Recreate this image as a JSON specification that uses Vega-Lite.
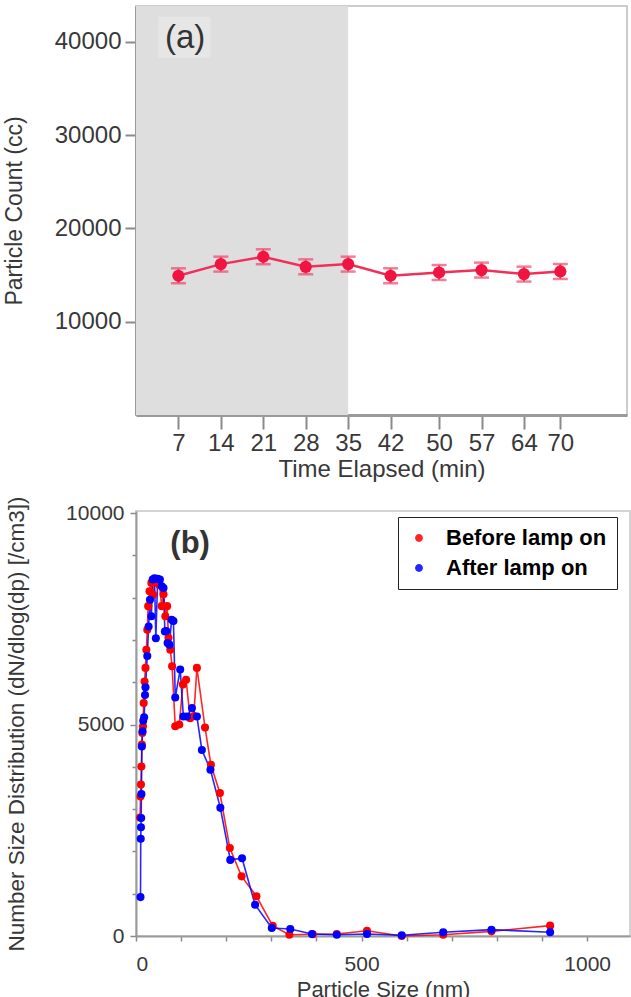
{
  "$schema": "https://vega.github.io/schema/vega-lite/v6.json",
  "padding": {"left": 2, "top": 5, "right": 0, "bottom": 0},
  "spacing": 12,
  "config": {
    "font": "Liberation Sans",
    "axis": {"labelColor": "#383838", "titleColor": "#383838", "titleFontWeight": "normal", "grid": false, "tickColor": "#8a8a8a", "domainColor": "#9a9a9a", "labelFont": "Liberation Sans", "titleFont": "Liberation Sans", "labelOverlap": false},
    "view": {"stroke": "#cccccc", "strokeWidth": 2}
  },
  "vconcat": [
    {
      "width": 491,
      "height": 409,
      "layer": [
        {
          "data": {"values": [{"start": 0, "end": 35}]},
          "mark": {"type": "rect", "color": "#dedede"},
          "encoding": {
            "x": {"field": "start", "type": "quantitative", "title": "Time Elapsed (min)", "scale": {"domain": [0, 81], "nice": false, "zero": false}},
            "x2": {"field": "end"}
          }
        },
        {
          "data": {"values": [{"label": "(a)"}]},
          "mark": {"type": "rect", "color": "#e6e6e6"},
          "encoding": {
            "x": {"datum": 3.7, "type": "quantitative"},
            "x2": {"datum": 12.3},
            "y": {"datum": 42700, "type": "quantitative", "title": "Particle Count (cc)",
              "axis": {"values": [10000, 20000, 30000, 40000], "format": "d", "tickSize": 11, "tickWidth": 2, "labelFontSize": 24, "labelPadding": 4, "titleFontSize": 23, "titlePadding": 28, "domainWidth": 3, "labelOverlap": false}},
            "y2": {"datum": 38300}
          }
        },
        {
          "data": {"values": [{"label": "(a)"}]},
          "mark": {"type": "text", "fontSize": 33, "color": "#333333", "font": "Liberation Sans", "baseline": "middle", "align": "center"},
          "encoding": {
            "x": {"datum": 8.1, "type": "quantitative"},
            "y": {"datum": 40400, "type": "quantitative", "title": "Particle Count (cc)",
              "axis": {"values": [10000, 20000, 30000, 40000], "format": "d", "tickSize": 11, "tickWidth": 2, "labelFontSize": 24, "labelPadding": 4, "titleFontSize": 23, "titlePadding": 28, "domainWidth": 3, "labelOverlap": false}},
            "text": {"field": "label"}
          }
        },
        {
          "data": {"values": [
            {"t": 7, "count": 14930, "lo": 14130, "hi": 15730},
            {"t": 14, "count": 16180, "lo": 15380, "hi": 16980},
            {"t": 21, "count": 16970, "lo": 16170, "hi": 17770},
            {"t": 28, "count": 15890, "lo": 15090, "hi": 16690},
            {"t": 35, "count": 16180, "lo": 15380, "hi": 16980},
            {"t": 42, "count": 14930, "lo": 14130, "hi": 15730},
            {"t": 50, "count": 15280, "lo": 14480, "hi": 16080},
            {"t": 57, "count": 15540, "lo": 14740, "hi": 16340},
            {"t": 64, "count": 15110, "lo": 14310, "hi": 15910},
            {"t": 70, "count": 15390, "lo": 14590, "hi": 16190}
          ]},
          "encoding": {
            "x": {"field": "t", "type": "quantitative", "title": "Time Elapsed (min)",
              "axis": {"values": [7, 14, 21, 28, 35, 42, 50, 57, 64, 70], "tickSize": 14, "tickWidth": 2, "labelFontSize": 24, "labelPadding": 2, "titleFontSize": 24, "titlePadding": 2, "domainWidth": 3, "labelOverlap": false}},
            "y": {"field": "count", "type": "quantitative", "title": "Particle Count (cc)",
              "scale": {"domain": [0, 43860], "nice": false, "zero": true},
              "axis": {"values": [10000, 20000, 30000, 40000], "format": "d", "tickSize": 11, "tickWidth": 2, "labelFontSize": 24, "labelPadding": 4, "titleFontSize": 23, "titlePadding": 28, "domainWidth": 3, "labelOverlap": false}}
          },
          "layer": [
            {
              "mark": {"type": "errorbar", "color": "#f0476a", "thickness": 2, "ticks": {"size": 15, "thickness": 2.5, "color": "#f0476a"}},
              "encoding": {
                "y": {"field": "lo", "type": "quantitative", "title": "Particle Count (cc)",
                  "axis": {"values": [10000, 20000, 30000, 40000], "format": "d", "tickSize": 11, "tickWidth": 2, "labelFontSize": 24, "labelPadding": 4, "titleFontSize": 23, "titlePadding": 28, "domainWidth": 3, "labelOverlap": false}},
                "y2": {"field": "hi"}
              }
            },
            {
              "mark": {"type": "line", "color": "#f0305a", "strokeWidth": 2.5}
            },
            {
              "mark": {"type": "point", "filled": true, "shape": "circle", "size": 150, "color": "#ef1540", "opacity": 1}
            }
          ]
        }
      ]
    },
    {
      "width": 494,
      "height": 425,
      "view": {"stroke": "#d4d4d4", "strokeWidth": 2},
      "layer": [
        {
          "data": {"values": [{"label": "(b)"}]},
          "mark": {"type": "text", "fontSize": 31, "fontWeight": "bold", "color": "#333333", "font": "Liberation Sans", "baseline": "middle", "align": "center"},
          "encoding": {
            "x": {"datum": 120, "type": "quantitative"},
            "y": {"datum": 9280, "type": "quantitative"},
            "text": {"field": "label"}
          }
        },
        {
          "data": {"values": [
            {"size": 9, "value": 2800, "series": "Before lamp on"},
            {"size": 10, "value": 3300, "series": "Before lamp on"},
            {"size": 11, "value": 3580, "series": "Before lamp on"},
            {"size": 12, "value": 4010, "series": "Before lamp on"},
            {"size": 13, "value": 4530, "series": "Before lamp on"},
            {"size": 14, "value": 4800, "series": "Before lamp on"},
            {"size": 15.5, "value": 4960, "series": "Before lamp on"},
            {"size": 17, "value": 5510, "series": "Before lamp on"},
            {"size": 19, "value": 6020, "series": "Before lamp on"},
            {"size": 21, "value": 6340, "series": "Before lamp on"},
            {"size": 23, "value": 6770, "series": "Before lamp on"},
            {"size": 25, "value": 7240, "series": "Before lamp on"},
            {"size": 27, "value": 7800, "series": "Before lamp on"},
            {"size": 30, "value": 8150, "series": "Before lamp on"},
            {"size": 34, "value": 8350, "series": "Before lamp on"},
            {"size": 38, "value": 8070, "series": "Before lamp on"},
            {"size": 42, "value": 8430, "series": "Before lamp on"},
            {"size": 47, "value": 8350, "series": "Before lamp on"},
            {"size": 52, "value": 8300, "series": "Before lamp on"},
            {"size": 57, "value": 7800, "series": "Before lamp on"},
            {"size": 61, "value": 8080, "series": "Before lamp on"},
            {"size": 65, "value": 7560, "series": "Before lamp on"},
            {"size": 69, "value": 7800, "series": "Before lamp on"},
            {"size": 72, "value": 7050, "series": "Before lamp on"},
            {"size": 76, "value": 6770, "series": "Before lamp on"},
            {"size": 80, "value": 6380, "series": "Before lamp on"},
            {"size": 87, "value": 4960, "series": "Before lamp on"},
            {"size": 96, "value": 5000, "series": "Before lamp on"},
            {"size": 104, "value": 5950, "series": "Before lamp on"},
            {"size": 111, "value": 6060, "series": "Before lamp on"},
            {"size": 120, "value": 5150, "series": "Before lamp on"},
            {"size": 128, "value": 5200, "series": "Before lamp on"},
            {"size": 135, "value": 6340, "series": "Before lamp on"},
            {"size": 153, "value": 4930, "series": "Before lamp on"},
            {"size": 166, "value": 4050, "series": "Before lamp on"},
            {"size": 186, "value": 3380, "series": "Before lamp on"},
            {"size": 208, "value": 2080, "series": "Before lamp on"},
            {"size": 234, "value": 1410, "series": "Before lamp on"},
            {"size": 267, "value": 940, "series": "Before lamp on"},
            {"size": 303, "value": 240, "series": "Before lamp on"},
            {"size": 340, "value": 30, "series": "Before lamp on"},
            {"size": 392, "value": 40, "series": "Before lamp on"},
            {"size": 445, "value": 47, "series": "Before lamp on"},
            {"size": 512, "value": 125, "series": "Before lamp on"},
            {"size": 589, "value": 0, "series": "Before lamp on"},
            {"size": 681, "value": 30, "series": "Before lamp on"},
            {"size": 788, "value": 110, "series": "Before lamp on"},
            {"size": 918, "value": 245, "series": "Before lamp on"},
            {"size": 10, "value": 920, "series": "After lamp on"},
            {"size": 10.5, "value": 2300, "series": "After lamp on"},
            {"size": 11, "value": 2570, "series": "After lamp on"},
            {"size": 11.5, "value": 2790, "series": "After lamp on"},
            {"size": 12, "value": 3360, "series": "After lamp on"},
            {"size": 13, "value": 4480, "series": "After lamp on"},
            {"size": 14.5, "value": 4840, "series": "After lamp on"},
            {"size": 16, "value": 5090, "series": "After lamp on"},
            {"size": 18, "value": 5170, "series": "After lamp on"},
            {"size": 20, "value": 5700, "series": "After lamp on"},
            {"size": 21, "value": 5880, "series": "After lamp on"},
            {"size": 25, "value": 6620, "series": "After lamp on"},
            {"size": 28, "value": 7320, "series": "After lamp on"},
            {"size": 31, "value": 7950, "series": "After lamp on"},
            {"size": 34, "value": 7560, "series": "After lamp on"},
            {"size": 37, "value": 8430, "series": "After lamp on"},
            {"size": 41, "value": 8460, "series": "After lamp on"},
            {"size": 44, "value": 7040, "series": "After lamp on"},
            {"size": 48, "value": 8450, "series": "After lamp on"},
            {"size": 53, "value": 8430, "series": "After lamp on"},
            {"size": 57, "value": 8270, "series": "After lamp on"},
            {"size": 61, "value": 8230, "series": "After lamp on"},
            {"size": 64, "value": 7200, "series": "After lamp on"},
            {"size": 67, "value": 7210, "series": "After lamp on"},
            {"size": 70, "value": 6930, "series": "After lamp on"},
            {"size": 74, "value": 6890, "series": "After lamp on"},
            {"size": 79, "value": 7480, "series": "After lamp on"},
            {"size": 83, "value": 7450, "series": "After lamp on"},
            {"size": 87, "value": 5640, "series": "After lamp on"},
            {"size": 98, "value": 6300, "series": "After lamp on"},
            {"size": 105, "value": 5190, "series": "After lamp on"},
            {"size": 113, "value": 5190, "series": "After lamp on"},
            {"size": 124, "value": 5390, "series": "After lamp on"},
            {"size": 135, "value": 5190, "series": "After lamp on"},
            {"size": 146, "value": 4400, "series": "After lamp on"},
            {"size": 165, "value": 3930, "series": "After lamp on"},
            {"size": 187, "value": 3030, "series": "After lamp on"},
            {"size": 209, "value": 1800, "series": "After lamp on"},
            {"size": 235, "value": 1840, "series": "After lamp on"},
            {"size": 264, "value": 740, "series": "After lamp on"},
            {"size": 301, "value": 190, "series": "After lamp on"},
            {"size": 342, "value": 165, "series": "After lamp on"},
            {"size": 390, "value": 47, "series": "After lamp on"},
            {"size": 445, "value": 30, "series": "After lamp on"},
            {"size": 512, "value": 47, "series": "After lamp on"},
            {"size": 589, "value": 16, "series": "After lamp on"},
            {"size": 681, "value": 87, "series": "After lamp on"},
            {"size": 788, "value": 150, "series": "After lamp on"},
            {"size": 918, "value": 87, "series": "After lamp on"}
          ]},
          "encoding": {
            "x": {"field": "size", "type": "quantitative", "title": "Particle Size (nm)",
              "scale": {"domain": [0, 1095], "nice": false, "zero": true},
              "axis": {"values": [0, 100, 200, 300, 400, 500, 600, 700, 800, 900, 1000],
                "labelExpr": "datum.value % 500 === 0 ? datum.label : ''", "format": "d",
                "tickSize": 5, "tickWidth": 1.5, "labelFontSize": 21, "labelPadding": 12, "titleFontSize": 22, "titlePadding": 5, "domainWidth": 2, "labelOverlap": false}},
            "y": {"field": "value", "type": "quantitative", "title": "Number Size Distribution (dN/dlog(dp) [/cm3])",
              "scale": {"domain": [0, 10050], "nice": false, "zero": true},
              "axis": {"values": [0, 1000, 2000, 3000, 4000, 5000, 6000, 7000, 8000, 9000, 10000],
                "labelExpr": "datum.value % 5000 === 0 ? datum.label : ''", "format": "d",
                "tickSize": {"condition": {"test": "datum.value % 5000 === 0", "value": 6}, "value": 4},
                "tickWidth": 1.5, "labelFontSize": 21, "labelPadding": 6, "titleFontSize": 22.5, "titlePadding": 37, "domainWidth": 2, "labelOverlap": false, "labelBound": false}},
            "color": {"field": "series", "type": "nominal",
              "scale": {"domain": ["Before lamp on", "After lamp on"], "range": ["#ff0000", "#0000ff"]},
              "legend": {"title": null, "orient": "none", "legendX": 262, "legendY": 511,
                "strokeColor": "#222222", "padding": 10, "fillColor": "#ffffff",
                "symbolType": "circle", "symbolSize": 40, "labelFontSize": 22, "labelFontWeight": "bold", "labelFont": "Liberation Sans",
                "labelOffset": 16, "rowPadding": 8, "labelLimit": 300,
                "encode": {"labels": {"update": {"fill": {"signal": "datum.value === 'Before lamp on' ? '#ff0000' : '#0000ff'"}}},
                           "symbols": {"update": {"fill": {"signal": "datum.value === 'Before lamp on' ? '#ff0000' : '#0000ff'"}, "stroke": {"value": "transparent"}}}}}}
          },
          "layer": [
            {"mark": {"type": "line", "strokeWidth": 1.6, "opacity": 0.85},
             "encoding": {"order": {"field": "size", "type": "quantitative"}}},
            {"mark": {"type": "point", "filled": true, "shape": "circle", "size": 65, "opacity": 1}}
          ]
        }
      ]
    }
  ]
}
